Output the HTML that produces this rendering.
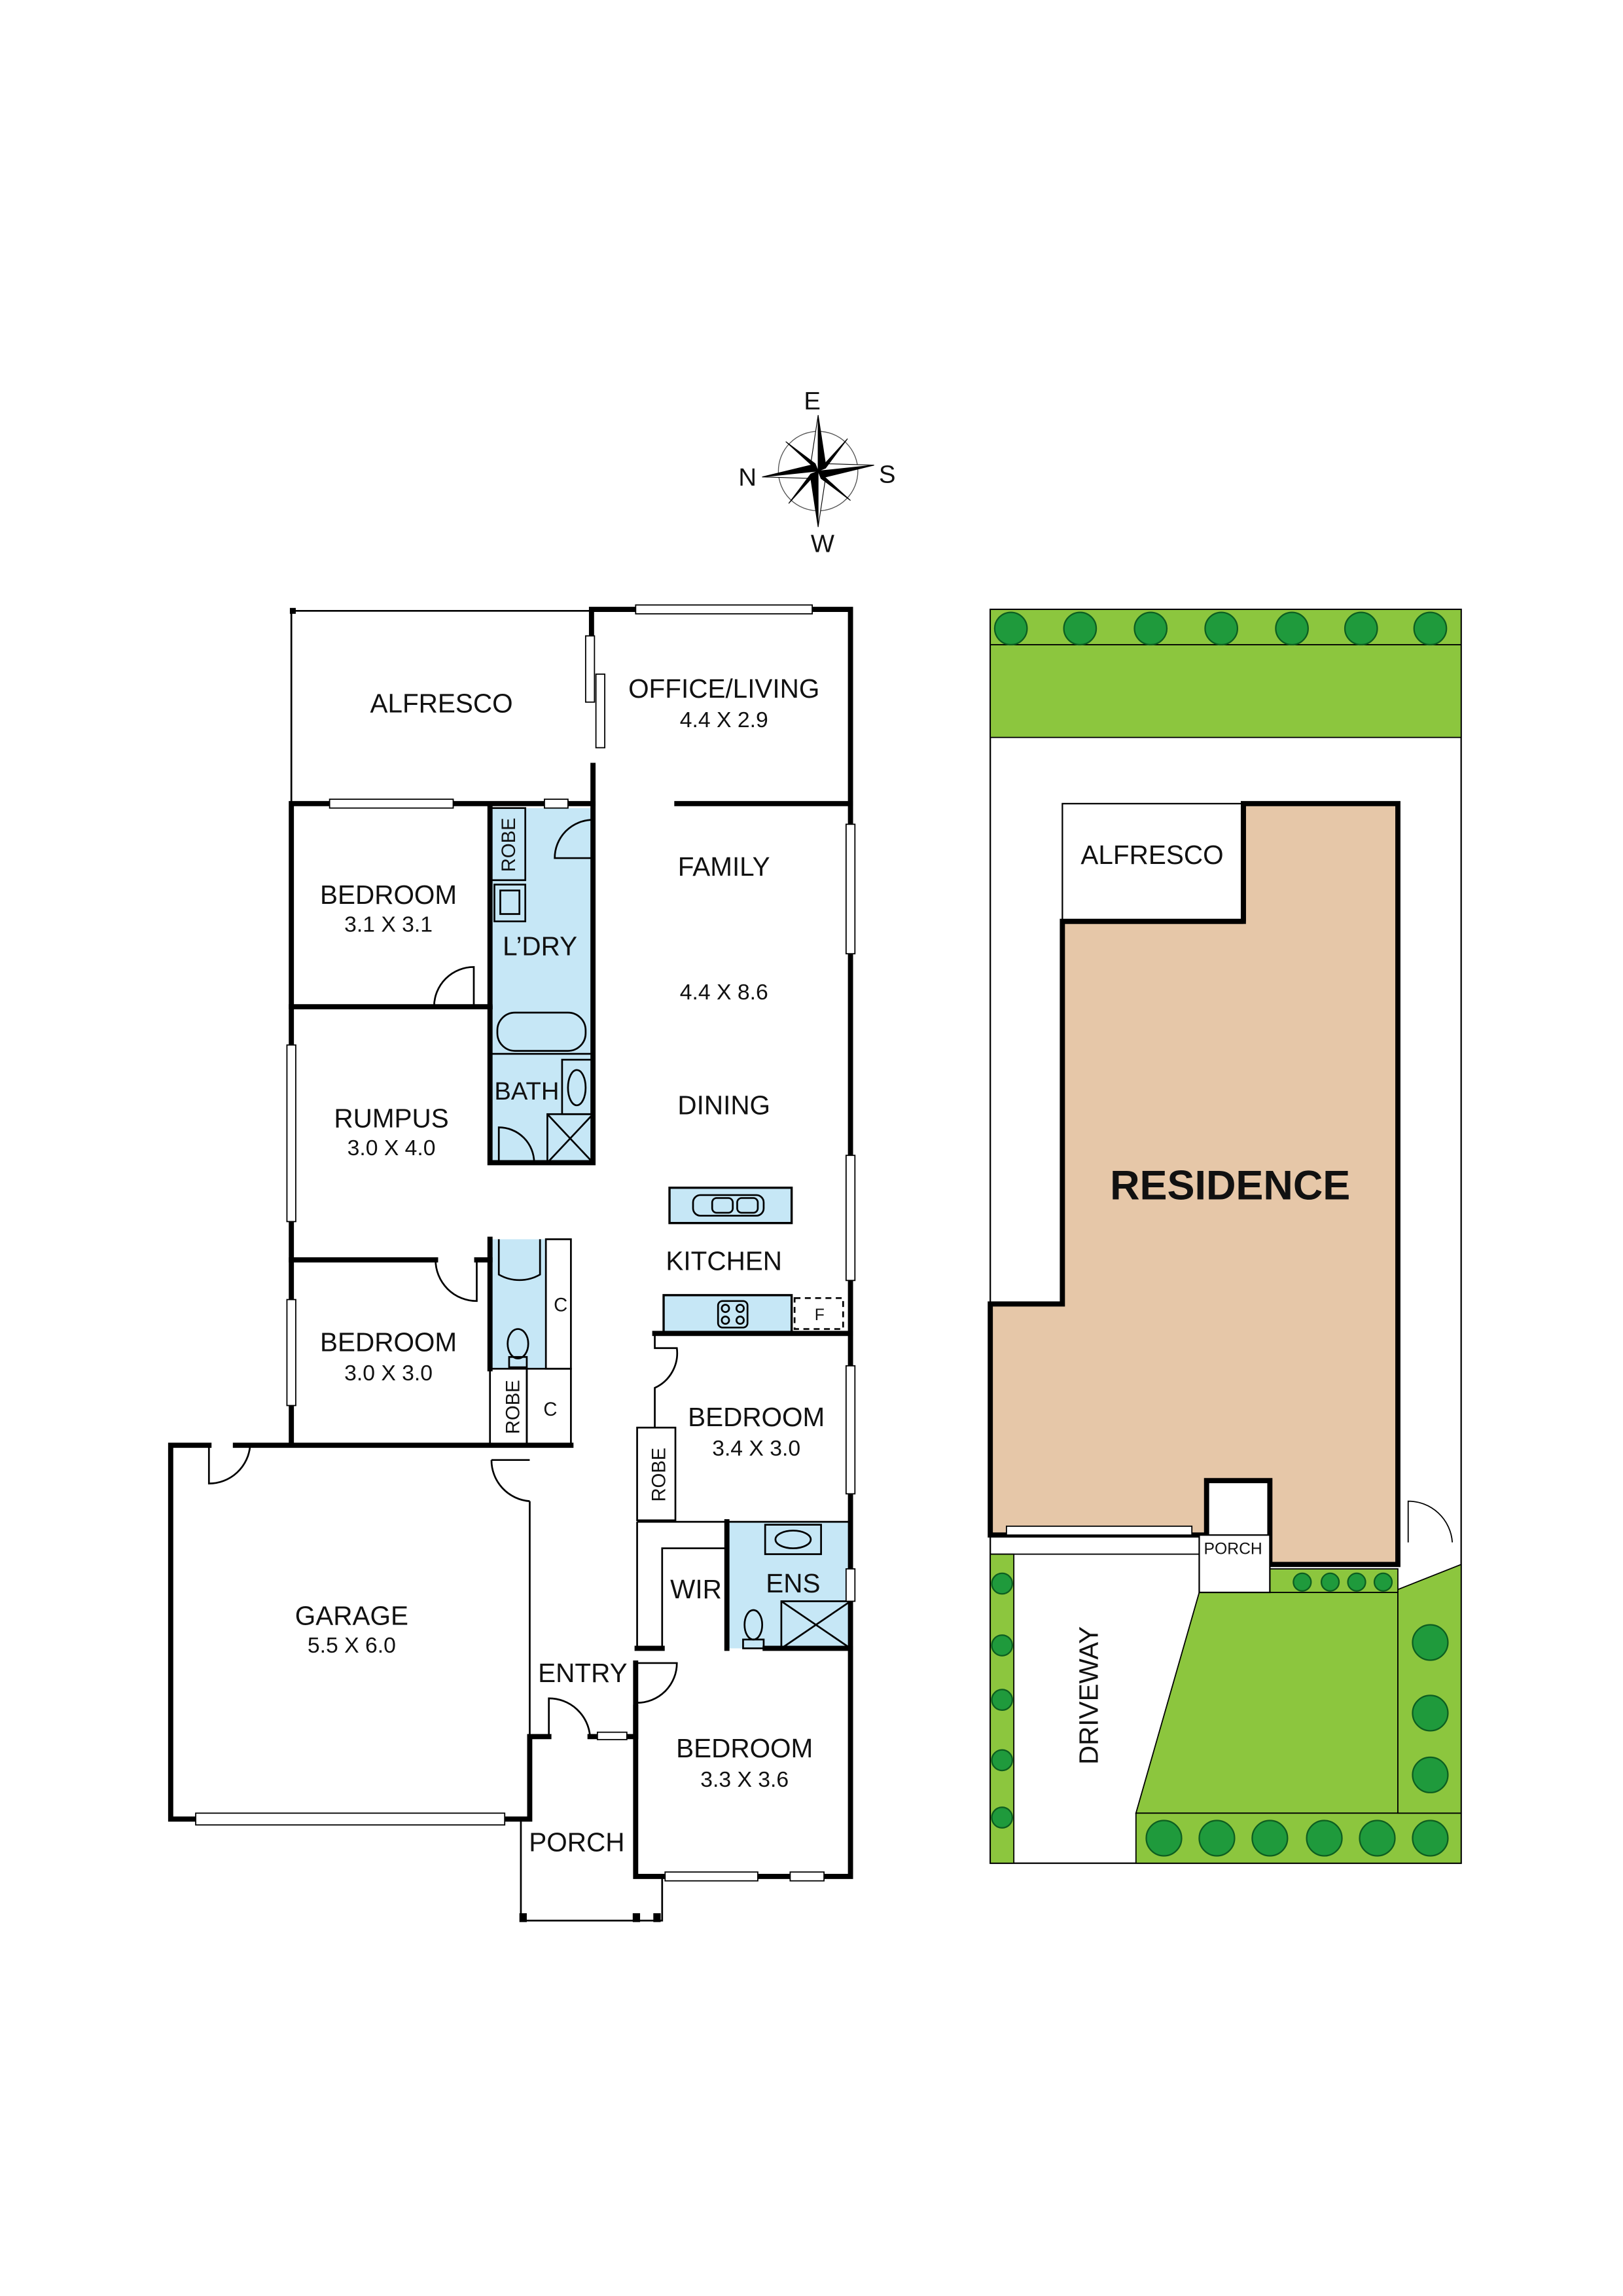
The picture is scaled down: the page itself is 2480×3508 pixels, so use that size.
<!DOCTYPE html>
<html><head><meta charset="utf-8"><style>
html,body{margin:0;padding:0;background:#fff}
svg{display:block}
text{font-family:"Liberation Sans",sans-serif;fill:#111}
</style></head><body>
<svg width="2480" height="3508" viewBox="0 0 1103 1560" xmlns="http://www.w3.org/2000/svg">
<rect width="1103" height="1560" fill="#fff"/>
<!-- Compass -->
<g transform="translate(556,320)">
<circle r="27" fill="none" stroke="#555" stroke-width="0.6"/>
<g fill="#000" stroke="#000" stroke-width="0.5">
<polygon points="0,-38 5,-5 0,0"/><polygon points="0,-38 -5,-5 0,0" fill="#fff"/>
<polygon points="0,38 -5,5 0,0"/><polygon points="0,38 5,5 0,0" fill="#fff"/>
<polygon points="-38,4 -5,-4 0,0"/><polygon points="-38,4 -5,5 0,0" fill="#fff"/>
<polygon points="38,-4 5,4 0,0"/><polygon points="38,-4 5,-5 0,0" fill="#fff"/>
<polygon points="-22,-20 -2,-5 0,0"/><polygon points="22,20 2,5 0,0"/>
<polygon points="20,-22 5,-2 0,0"/><polygon points="-20,22 -5,2 0,0"/>
</g>
<text x="-4" y="-42" font-size="17" text-anchor="middle">E</text>
<text x="47" y="8" font-size="17" text-anchor="middle">S</text>
<text x="-48" y="10" font-size="17" text-anchor="middle">N</text>
<text x="3" y="55" font-size="17" text-anchor="middle">W</text>
</g>

<!-- Floor plan blue areas -->
<g fill="#c6e7f6">
<rect x="333" y="549" width="70" height="241"/>
<rect x="333" y="842" width="38" height="88"/>
<rect x="494" y="1034" width="84" height="86"/>
<rect x="455" y="807" width="83" height="24" stroke="#000" stroke-width="1.5"/>
<rect x="451" y="880" width="87" height="26" stroke="#000" stroke-width="1.5"/>
</g>
<!-- thin lines -->
<g fill="none" stroke="#000" stroke-width="1.2">
<polyline points="198,545 198,415 402,415"/>
<rect x="333" y="549" width="24" height="49"/>
<rect x="336" y="601" width="21" height="25"/><rect x="340" y="605" width="13" height="16"/>
<rect x="338" y="688" width="60" height="26" rx="12"/>
<line x1="333" y1="716" x2="403" y2="716"/>
<rect x="382" y="720" width="20" height="37"/><ellipse cx="392" cy="739" rx="6" ry="12"/>
<rect x="372" y="757" width="31" height="33"/><line x1="372" y1="757" x2="403" y2="790"/><line x1="403" y1="757" x2="372" y2="790"/>
<path d="M339,790 V766 A24,24 0 0 1 363,790"/>
<path d="M403,557 A26,26 0 0 0 377,583 H403"/>
<path d="M295,684 A27,27 0 0 1 322,657 V684"/>
<path d="M296,856 A28,28 0 0 0 324,884 V856"/>
<path d="M339,842 V866 A28,28 0 0 0 367,866 V842"/>
<rect x="371" y="842" width="17" height="88"/><rect x="358" y="930" width="30" height="52"/><rect x="333" y="930" width="25" height="52"/>
<ellipse cx="352" cy="913" rx="7" ry="10"/><rect x="346" y="922" width="12" height="7"/>
<path d="M142,982 V1008 A28,28 0 0 0 170,982"/>
<path d="M334,992 H360 M334,992 A28,28 0 0 0 360,1020"/>
<line x1="360" y1="1020" x2="360" y2="1236"/>
<polyline points="354,1236 354,1305 450,1305 450,1275"/>
<rect x="433" y="970" width="26" height="63"/>
<path d="M445,906 V916 H460 A26,26 0 0 1 445,943 V970"/>
<polyline points="450,1120 450,1052 494,1052"/>
<line x1="433" y1="1034" x2="433" y2="1120"/>
<rect x="520" y="1036" width="38" height="20"/><ellipse cx="539" cy="1046" rx="12" ry="6"/>
<rect x="531" y="1088" width="47" height="32"/><line x1="531" y1="1088" x2="578" y2="1120"/><line x1="578" y1="1088" x2="531" y2="1120"/>
<ellipse cx="512" cy="1104" rx="6" ry="10"/><rect x="505" y="1114" width="14" height="6"/>
<path d="M433,1130 H460 A27,27 0 0 1 433,1157"/>
<path d="M373,1180 V1154 A28,28 0 0 1 401,1180"/>
<rect x="540" y="882" width="33" height="21" stroke-dasharray="4,3"/>
<rect x="488" y="884" width="20" height="18" rx="3"/>
<circle cx="493" cy="889" r="2.5"/><circle cx="503" cy="889" r="2.5"/><circle cx="493" cy="897" r="2.5"/><circle cx="503" cy="897" r="2.5"/>
<rect x="471" y="812" width="48" height="14" rx="5"/><rect x="484" y="814" width="14" height="10" rx="3"/><rect x="501" y="814" width="14" height="10" rx="3"/>
<line x1="433" y1="1034" x2="578" y2="1034"/>
</g>
<!-- thick walls -->
<g fill="none" stroke="#000" stroke-width="3.5" stroke-linecap="square">
<polyline points="402,460 402,414 578,414 578,1275 432,1275 432,1160"/>
<polyline points="403,520 403,790 333,790 333,685"/>
<line x1="333" y1="549" x2="333" y2="684"/>
<line x1="460" y1="546" x2="578" y2="546"/>
<polyline points="333,684 198,684"/>
<polyline points="403,546 198,546 198,980"/>
<line x1="198" y1="856" x2="296" y2="856"/>
<line x1="324" y1="856" x2="333" y2="856"/>
<line x1="333" y1="842" x2="333" y2="930"/>
<polyline points="160,982 388,982"/>
<polyline points="142,982 116,982 116,1236 360,1236 360,1180 373,1180"/>
<polyline points="401,1180 432,1180 432,1130"/>
<line x1="445" y1="906" x2="578" y2="906"/>
<line x1="494" y1="1034" x2="494" y2="1120"/>
<line x1="433" y1="1120" x2="450" y2="1120"/>
<line x1="520" y1="1120" x2="578" y2="1120"/>
</g>
<!-- windows -->
<g fill="#fff" stroke="#000" stroke-width="0.8">
<rect x="432" y="411" width="120" height="6"/>
<rect x="224" y="543" width="84" height="6"/><rect x="370" y="543" width="16" height="6"/>
<rect x="575" y="560" width="6" height="88"/><rect x="575" y="785" width="6" height="85"/>
<rect x="575" y="928" width="6" height="87"/><rect x="575" y="1066" width="6" height="22"/>
<rect x="195" y="710" width="6" height="120"/><rect x="195" y="883" width="6" height="72"/>
<rect x="398" y="432" width="6" height="45"/><rect x="405" y="458" width="6" height="50"/>
<rect x="133" y="1232" width="210" height="8"/>
<rect x="452" y="1272" width="63" height="6"/><rect x="537" y="1272" width="23" height="6"/>
<rect x="406" y="1177" width="20" height="5"/>
</g>
<g fill="#000"><rect x="353" y="1300" width="5" height="6"/><rect x="430" y="1300" width="5" height="6"/><rect x="444" y="1300" width="5" height="6"/><rect x="197" y="413" width="4" height="4"/></g>
<!-- labels -->
<g font-size="18" text-anchor="middle">
<text x="300" y="484">ALFRESCO</text>
<text x="492" y="474">OFFICE/LIVING</text>
<text x="492" y="595">FAMILY</text>
<text x="264" y="614">BEDROOM</text>
<text x="367" y="649">L’DRY</text>
<text x="266" y="766">RUMPUS</text>
<text x="358" y="747" font-size="17">BATH</text>
<text x="492" y="757">DINING</text>
<text x="492" y="863">KITCHEN</text>
<text x="264" y="918">BEDROOM</text>
<text x="514" y="969">BEDROOM</text>
<text x="239" y="1104">GARAGE</text>
<text x="473" y="1086">WIR</text>
<text x="539" y="1082">ENS</text>
<text x="396" y="1143">ENTRY</text>
<text x="506" y="1194">BEDROOM</text>
<text x="392" y="1258">PORCH</text>
</g>
<g font-size="15" text-anchor="middle">
<text x="492" y="494">4.4 X 2.9</text>
<text x="492" y="679">4.4 X 8.6</text>
<text x="264" y="633">3.1 X 3.1</text>
<text x="266" y="785">3.0 X 4.0</text>
<text x="264" y="938">3.0 X 3.0</text>
<text x="514" y="989">3.4 X 3.0</text>
<text x="239" y="1123">5.5 X 6.0</text>
<text x="506" y="1214">3.3 X 3.6</text>
</g>
<g font-size="13" text-anchor="middle">
<text x="381" y="891">C</text><text x="374" y="962">C</text>
<text x="557" y="897" font-size="11">F</text>
<text transform="translate(350,574) rotate(-90)">ROBE</text>
<text transform="translate(353,956) rotate(-90)">ROBE</text>
<text transform="translate(452,1002) rotate(-90)">ROBE</text>
</g>

<!-- SITE PLAN -->
<rect x="673" y="414" width="320" height="852" fill="#fff" stroke="#000" stroke-width="1"/>
<g fill="#8cc63e" stroke="#000" stroke-width="0.8">
<rect x="673" y="414" width="320" height="87"/>
<line x1="673" y1="438" x2="993" y2="438"/>
<rect x="673" y="1056" width="16" height="210"/>
<polygon points="815,1082 950,1082 950,1232 772,1232"/>
<rect x="772" y="1232" width="221" height="34"/>
<polygon points="950,1080 993,1063 993,1232 950,1232"/>
<rect x="863" y="1066" width="87" height="16"/>
</g>
<polygon points="673,886 722,886 722,626 845,626 845,546 950,546 950,1063 863,1063 863,1006 820,1006 820,1043 673,1043" fill="#e6c7a8" stroke="#000" stroke-width="3.5"/>
<rect x="722" y="546" width="123" height="80" fill="#fff" stroke="#000" stroke-width="1"/>
<line x1="722" y1="626" x2="845" y2="626" stroke="#000" stroke-width="3.5"/>
<line x1="845" y1="546" x2="845" y2="626" stroke="#000" stroke-width="3.5"/>
<rect x="815" y="1043" width="48" height="39" fill="#fff" stroke="#000" stroke-width="1"/>
<line x1="673" y1="1056" x2="815" y2="1056" stroke="#000" stroke-width="0.8"/>
<rect x="684" y="1037" width="126" height="6" fill="#fff" stroke="#000" stroke-width="0.8"/>
<path d="M957,1048 V1020 A30,30 0 0 1 987,1048" fill="none" stroke="#000" stroke-width="0.8"/>
<g fill="#1f9a3c" stroke="#0d5e20" stroke-width="1">
<circle cx="687" cy="427" r="11"/><circle cx="734" cy="427" r="11"/><circle cx="782" cy="427" r="11"/><circle cx="830" cy="427" r="11"/><circle cx="878" cy="427" r="11"/><circle cx="925" cy="427" r="11"/><circle cx="972" cy="427" r="11"/>
<circle cx="681" cy="1076" r="7"/><circle cx="681" cy="1118" r="7"/><circle cx="681" cy="1155" r="7"/><circle cx="681" cy="1196" r="7"/><circle cx="681" cy="1235" r="7"/>
<circle cx="885" cy="1075" r="6"/><circle cx="904" cy="1075" r="6"/><circle cx="922" cy="1075" r="6"/><circle cx="940" cy="1075" r="6"/>
<circle cx="972" cy="1116" r="12"/><circle cx="972" cy="1164" r="12"/><circle cx="972" cy="1206" r="12"/>
<circle cx="791" cy="1249" r="12"/><circle cx="827" cy="1249" r="12"/><circle cx="863" cy="1249" r="12"/><circle cx="900" cy="1249" r="12"/><circle cx="936" cy="1249" r="12"/><circle cx="972" cy="1249" r="12"/>
</g>
<text x="783" y="587" font-size="18" text-anchor="middle">ALFRESCO</text>
<text x="836" y="815" font-size="28" font-weight="bold" text-anchor="middle">RESIDENCE</text>
<text x="838" y="1056" font-size="11" text-anchor="middle">PORCH</text>
<text transform="translate(746,1152) rotate(-90)" font-size="18" text-anchor="middle">DRIVEWAY</text>
</svg>
</body></html>
